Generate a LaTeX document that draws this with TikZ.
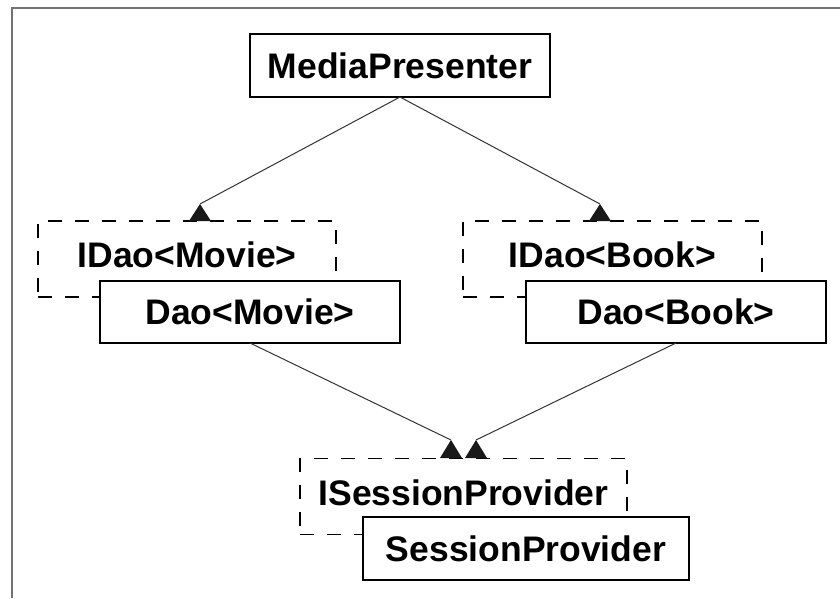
\documentclass[tikz,border=0pt]{standalone}
\usepackage{fontspec}
\setmainfont{Liberation Sans}

\tikzset{
  boxtext/.style={font=\bfseries\fontsize{35.5}{38}\selectfont},
  cls/.style={boxtext, draw, line width=1.3pt, fill=white, minimum height=62pt, outer sep=0pt},
  iface/.style={boxtext, draw, dash pattern=on 14pt off 13pt, line width=1.2pt, minimum height=76pt, text depth=8pt},
  dep/.style={line width=1pt, draw=black!80},
  tiphead/.style={fill=black!90},
}

\begin{document}
\begin{tikzpicture}[x=1pt,y=-1pt]
\useasboundingbox (0,0) rectangle (840,598);
% frame
\draw[line width=2pt, black!55] (12,598) -- (12,8) -- (840,8);

% interfaces (dashed, behind)
\node[iface, minimum width=298pt] (idm) at (187,259) {IDao<Movie>};
\node[iface, minimum width=299pt] (idb) at (612.5,259) {IDao<Book>};
\node[iface, minimum width=327pt] (isp) at (463.5,496.5) {ISessionProvider};

% classes
\node[cls, minimum width=300pt, minimum height=63pt] (mp) at (400,65.5) {MediaPresenter};
\node[cls, minimum width=300pt] (dm) at (250,312) {Dao<Movie>};
\node[cls, minimum width=300pt] (db) at (676,312) {Dao<Book>};
\node[cls, minimum width=326pt, minimum height=63pt] (sp) at (526,548.5) {SessionProvider};

% arrow tips on the interfaces
\coordinate (tm) at (200,204);
\coordinate (tb) at (600,204);
\coordinate (ts1) at (451,440);
\coordinate (ts2) at (476,440);
\fill[tiphead] (tm) -- ++(-11,17) -- ++(22,0) -- cycle;
\fill[tiphead] (tb) -- ++(-11,17) -- ++(22,0) -- cycle;
\fill[tiphead] (ts1) -- ++(-11,18) -- ++(22,0) -- cycle;
\fill[tiphead] (ts2) -- ++(-11,18) -- ++(22,0) -- cycle;

% dependencies
\draw[dep] (mp.south) -- (tm);
\draw[dep] (mp.south) -- (tb);
\draw[dep] (dm.south) -- (ts1);
\draw[dep] (db.south) -- (ts2);
\end{tikzpicture}
\end{document}
